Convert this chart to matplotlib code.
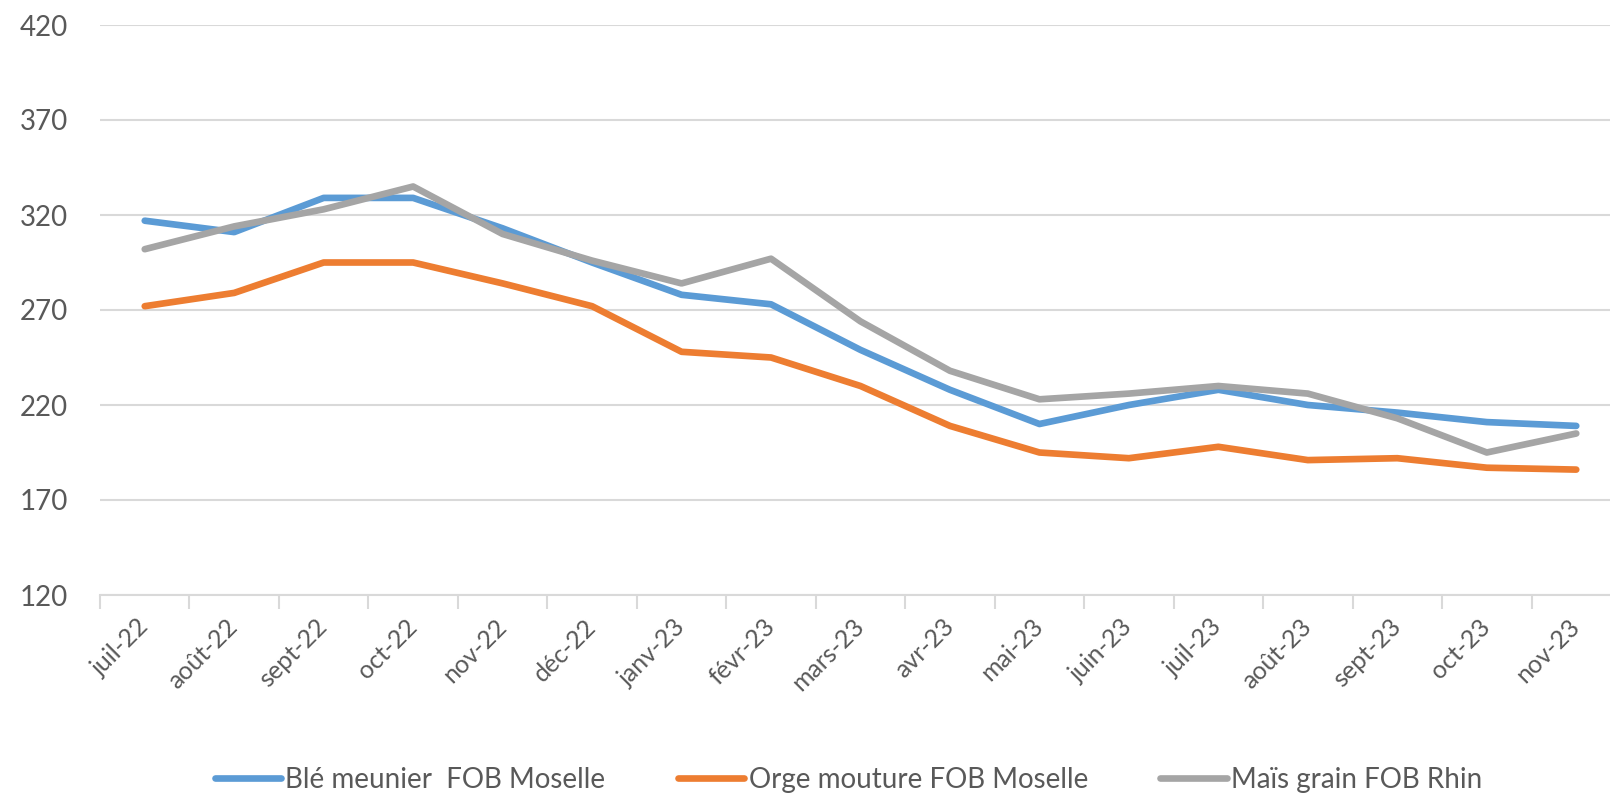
import matplotlib.pyplot as plt
import numpy as np

months = ['juil-22', 'août-22', 'sept-22', 'oct-22', 'nov-22', 'déc-22',
          'janv-23', 'févr-23', 'mars-23', 'avr-23', 'mai-23', 'juin-23',
          'juil-23', 'août-23', 'sept-23', 'oct-23', 'nov-23']

ble = [317, 311, 329, 329, 313, 295, 278, 273, 249, 228, 210, 220, 228, 220, 216, 211, 209]
orge = [272, 279, 295, 295, 284, 272, 248, 245, 230, 209, 195, 192, 198, 191, 192, 187, 186]
mais = [302, 314, 323, 335, 310, 296, 284, 297, 264, 238, 223, 226, 230, 226, 213, 195, 205]

labels = ['Blé meunier  FOB Moselle', 'Orge mouture FOB Moselle', 'Maïs grain FOB Rhin']
colors = ['#5B9BD5', '#ED7D31', '#A5A5A5']
yticks = [120, 170, 220, 270, 320, 370, 420]

plt.rcParams['font.family'] = ['Lato', 'DejaVu Sans']
text_col = '#595959'
grid_col = '#D9D9D9'

fig = plt.figure(figsize=(16.1, 7.94), dpi=100)
ax = fig.add_axes([100 / 1610, 1 - 595 / 794, 1521 / 1610, 570 / 794])

x = np.arange(len(months))
for s, lab, c in zip([ble, orge, mais], labels, colors):
    ax.plot(x, s, color=c, lw=4.8, label=lab, solid_capstyle='round', solid_joinstyle='round')

ax.set_xlim(-0.5, len(months) - 0.5)
ax.set_ylim(120, 420)
ax.set_yticks(yticks)
ax.set_yticklabels([str(v) for v in yticks], fontsize=20, color=text_col)
ax.yaxis.grid(True, color=grid_col, lw=1.5)
ax.set_axisbelow(True)
ax.tick_params(axis='y', length=0, pad=23)

ax.set_xticks(x)
ax.set_xticklabels(months, rotation=45, ha='right', va='center', rotation_mode='anchor',
                   fontsize=18, color=text_col)
ax.tick_params(axis='x', which='major', length=0, pad=20)
ax.set_xticks(np.arange(len(months) + 1) - 0.5, minor=True)
ax.tick_params(axis='x', which='minor', length=10, width=1.5, color=grid_col)

for side in ['top', 'right', 'left']:
    ax.spines[side].set_visible(False)
ax.spines['bottom'].set_color(grid_col)
ax.spines['bottom'].set_linewidth(1.5)

fig.legend(loc='center', bbox_to_anchor=(0.527, 1 - 780 / 794), ncol=3, frameon=False,
           fontsize=20, handlelength=2.4, handletextpad=0.15, columnspacing=2.6,
           labelcolor=text_col)

plt.savefig('out.png', dpi=100)
